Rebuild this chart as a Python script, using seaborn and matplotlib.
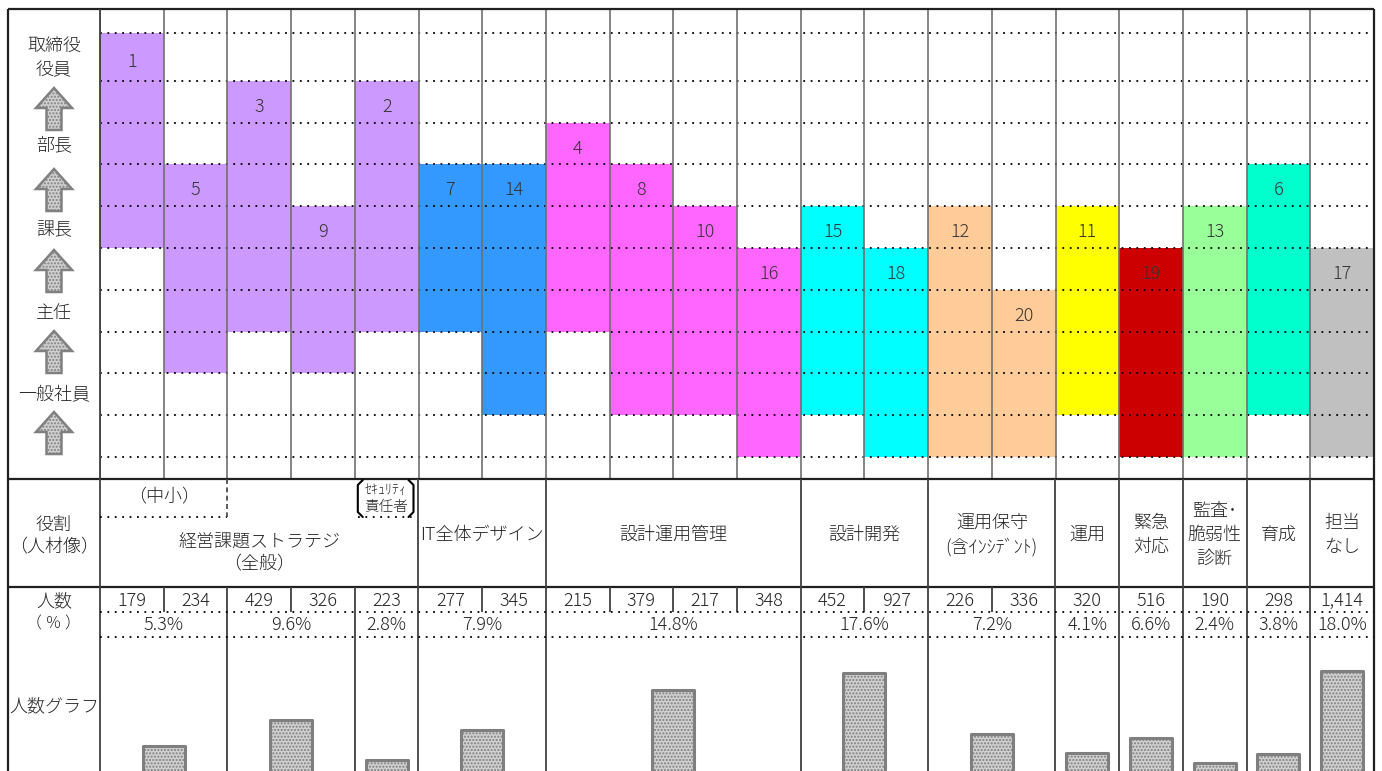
import numpy as np
import pandas as pd
import seaborn as sns
import matplotlib.pyplot as plt
from matplotlib.patches import FancyArrow

# ---- values ----
# one column per role, left to right
bar_ids = ['1', '5', '3', '9', '2', '7', '14', '4', '8', '10',
           '16', '15', '18', '12', '20', '11', '19', '13', '6', '17']
# grid level of the top / bottom edge of each band (0 = lowest dotted line)
bar_top = [10, 7, 9, 6, 9, 7, 7, 8, 7, 6, 5, 6, 5, 6, 4, 6, 5, 6, 7, 5]
bar_bottom = [5, 2, 3, 2, 3, 3, 1, 3, 1, 1, 0, 1, 0, 0, 0, 1, 0, 0, 1, 0]
bar_colors = ['#CC99FF'] * 5 + ['#3399FF'] * 2 + ['#FF66FF'] * 4 + \
             ['#00FFFF'] * 2 + ['#FFCC99'] * 2 + \
             ['#FFFF00', '#CC0000', '#99FF99', '#00FFCC', '#C0C0C0']
headcount = ['179', '234', '429', '326', '223', '277', '345', '215', '379', '217',
             '348', '452', '927', '226', '336', '320', '516', '190', '298', '1,414']

level_names = ['取締役\n役員', '部長', '課長', '主任', '一般社員']

role_names = ['経営課題ストラテジ\n（全般）', 'IT全体デザイン', '設計運用管理', '設計開発',
              '運用保守\n(含ｲﾝｼﾃﾞﾝﾄ)', '運用', '緊急\n対応', '監査･\n脆弱性\n診断',
              '育成', '担当\nなし']
role_span = [5, 2, 4, 2, 2, 1, 1, 1, 1, 1]

pct_labels = ['5.3%', '9.6%', '2.8%', '7.9%', '14.8%', '17.6%',
              '7.2%', '4.1%', '6.6%', '2.4%', '3.8%', '18.0%']
pct_values = [5.3, 9.6, 2.8, 7.9, 14.8, 17.6, 7.2, 4.1, 6.6, 2.4, 3.8, 18.0]
pct_span = [2, 2, 1, 2, 4, 2, 2, 1, 1, 1, 1, 1]

# ---- layout ----
W, H = 1382, 771
X0, X1 = 100, 1374
CW = (X1 - X0) / 20
FS = 13
INK = '#222222'

sns.set_theme(style='white')
plt.rcParams['font.family'] = ['Noto Sans CJK JP', 'DejaVu Sans']
plt.rcParams['font.weight'] = 'light'
plt.rcParams['hatch.linewidth'] = 1.0

fig = plt.figure(figsize=(W / 100, H / 100), dpi=100)
fig.patch.set_facecolor('white')


def box(x, y, w, h):
    return [x / W, 1 - (y + h) / H, w / W, h / H]


def ypos(l):
    # top row of the grid is a little taller
    return l + 0.14 * (l >= 10)


# ---- level chart ----
top = fig.add_axes(box(X0, 9, X1 - X0, 470))
df = pd.DataFrame({'id': bar_ids,
                   'lo': [ypos(v) for v in bar_bottom],
                   'hi': [ypos(v) for v in bar_top]})
df['span'] = df['hi'] - df['lo']
sns.barplot(data=df, x='id', y='span', order=bar_ids, bottom=df['lo'].to_numpy(),
            width=1.0, color='white', saturation=1, linewidth=0,
            errorbar=None, ax=top)
for p, c in zip(top.patches, bar_colors):
    p.set_facecolor(c)

for i, (t, lab) in enumerate(zip(bar_top, bar_ids)):
    y = (ypos(t) + ypos(t - 1)) / 2 - 0.12
    top.text(i, y, lab, ha='center', va='center', fontsize=FS, color='#333333', zorder=5)

for l in range(11):
    top.axhline(ypos(l), color='black', lw=1.3, ls=(0, (1, 3.1)), zorder=3)
for i in range(21):
    top.axvline(i - 0.5, color='#707070', lw=1.2, zorder=4)
top.set_xlim(-0.5, 19.5)
top.set_ylim(-0.526, 10.72)
top.axis('off')

# ---- headcount bars ----
bot = fig.add_axes(box(X0, 637, X1 - X0, 134))
edges = np.concatenate([[0], np.cumsum(pct_span)])
centers = (edges[:-1] + edges[1:]) / 2
bdf = pd.DataFrame({'pos': centers, 'pct': pct_values})
sns.barplot(data=bdf, x='pos', y='pct', native_scale=True, width=0.66,
            color='#D0D0D0', saturation=1, edgecolor='#7F7F7F', linewidth=2.2,
            hatch='.....', errorbar=None, ax=bot)
for p in bot.patches:
    p.set_joinstyle('round')
bot.set_xlim(0, 20)
bot.set_ylim(1.0, 23.7)
bot.axis('off')

# ---- table overlay (pixel coordinates) ----
tab = fig.add_axes([0, 0, 1, 1])
tab.set_xlim(0, W)
tab.set_ylim(H, 0)
tab.axis('off')


def cx(c):
    return X0 + c * CW


solid = dict(color='#404040', lw=1.3, solid_capstyle='butt')
outer = dict(color='#202020', lw=1.6, solid_capstyle='butt')
dots = dict(color='black', lw=1.3, ls=(0, (1, 3.1)))

for y in (9, 479, 587):
    tab.plot([8, X1], [y, y], **outer)
for x in (8, X1):
    tab.plot([x, x], [9, H], **outer)
tab.plot([X0, X0], [9, H], **solid)

role_edges = np.concatenate([[0], np.cumsum(role_span)])
for e in role_edges[1:-1]:
    tab.plot([cx(e), cx(e)], [479, 587], **solid)
for e in range(1, 20):
    tab.plot([cx(e), cx(e)], [587, 612], **solid)
for e in edges[1:-1]:
    tab.plot([cx(e), cx(e)], [612, H], **solid)
for y in (612, 637):
    tab.plot([X0, X1], [y, y], **dots)

# left column
tab.text(54, 58, level_names[0], ha='center', va='center', fontsize=FS,
         color=INK, linespacing=1.4)
for name, y in zip(level_names[1:], [145, 230, 313, 395]):
    tab.text(54, y, name, ha='center', va='center', fontsize=FS, color=INK)
for c in [109, 190, 271, 352, 433]:
    tab.add_patch(FancyArrow(54, c + 21, 0, -42, width=15, head_width=36,
                             head_length=20, length_includes_head=True,
                             facecolor='#CFCFCF', edgecolor='#808080', lw=1.8,
                             hatch='.....'))
tab.text(54, 536, '役割\n（人材像）', ha='center', va='center', fontsize=FS,
         color=INK, linespacing=1.3)
tab.text(54, 601, '人数', ha='center', va='center', fontsize=FS, color=INK)
tab.text(54, 624, '（ ％ ）', ha='center', va='center', fontsize=FS - 1.5, color=INK)
tab.text(54, 706, '人数グラフ', ha='center', va='center', fontsize=FS, color=INK)

# role row
for name, a, b in zip(role_names, role_edges[:-1], role_edges[1:]):
    y = 553 if a == 0 else 535
    tab.text((cx(a) + cx(b)) / 2, y, name, ha='center', va='center',
             fontsize=FS, color=INK, linespacing=1.4)

# (中小) and セキュリティ責任者 sub-boxes
tab.text((cx(0) + cx(2)) / 2, 497, '（中小）', ha='center', va='center',
         fontsize=FS, color=INK)
tab.plot([cx(0), cx(2)], [517, 517], **dots)
tab.plot([cx(2), cx(2)], [479, 517], color='#404040', lw=1.2, ls=(0, (3, 2)))
bx0, bx1 = cx(4) + 3, cx(5) - 5
tab.plot([bx0 + 5, bx0, bx0, bx0 + 5], [480, 485, 512, 517], color='black', lw=1.5)
tab.plot([bx1 - 5, bx1, bx1, bx1 - 5], [480, 485, 512, 517], color='black', lw=1.5)
tab.plot([bx0, bx1], [517, 517], **dots)
tab.text((bx0 + bx1) / 2, 490, 'ｾｷｭﾘﾃｨ', ha='center', va='center', fontsize=10, color=INK)
tab.text((bx0 + bx1) / 2, 507, '責任者', ha='center', va='center', fontsize=10.5, color=INK)

# counts and shares
for i, n in enumerate(headcount):
    tab.text(cx(i + 0.5), 601, n, ha='center', va='center', fontsize=FS, color=INK)
for lab, a, b in zip(pct_labels, edges[:-1], edges[1:]):
    tab.text((cx(a) + cx(b)) / 2, 625, lab, ha='center', va='center',
             fontsize=FS, color=INK)

fig.savefig('out.png', dpi=100, facecolor='white')
